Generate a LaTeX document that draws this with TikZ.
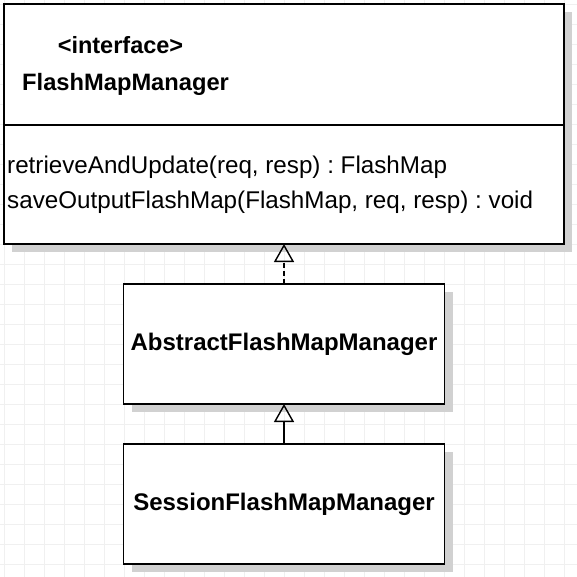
\documentclass[tikz,border=0pt]{standalone}
\usepackage{fontspec}
\setmainfont{Liberation Sans}
\usetikzlibrary{arrows.meta,shadows,positioning}
\frenchspacing
\tikzstyle{umlbox} = [rectangle, draw, fill=white, line width=1.6pt, outer sep=0pt,
    drop shadow={shadow xshift=8pt, shadow yshift=-8pt, fill=black!18, opacity=1}]
\tikzstyle{classbox} = [umlbox, minimum width=321pt, minimum height=120pt,
    font=\bfseries\fontsize{24}{29}\selectfont]
\tikzstyle{line} = [draw, line width=1.4pt,
    -{Triangle[open, length=18pt, width=20pt, line width=1.4pt]}]
\tikzstyle{realize} = [line, dash pattern=on 5pt off 3pt]
\begin{document}
\begin{tikzpicture}[x=1pt, y=1pt, node distance=40pt]
    \path [use as bounding box, fill=white] (0,0) rectangle (577,-576);
    \clip (0,0) rectangle (577,-576);
    % background grid
    \begin{scope}[xshift=4pt, yshift=-4pt]
        \draw [step=20pt, black!6, line width=1pt] (-20,20) grid (580,-580);
    \end{scope}
    \node [umlbox, minimum width=560pt, minimum height=240pt] (iface) at (284,-124) {};
    \coordinate (sep) at (0,-125);
    \draw [line width=1.6pt] (iface.west |- sep) -- (iface.east |- sep);
    \node [anchor=base, inner sep=0pt, font=\bfseries\fontsize{23.5}{28}\selectfont] (stereo) at (120.5,-53) {<interface>};
    \node [anchor=base west, inner sep=0pt, font=\bfseries\fontsize{23.7}{28}\selectfont] (ifname) at (22,-90) {FlashMapManager};
    \node [anchor=base west, inner sep=0pt, font=\fontsize{24.2}{29}\selectfont] (retrieve) at (7,-173) {retrieveAndUpdate(req, resp) : FlashMap};
    \node [anchor=base west, inner sep=0pt, font=\fontsize{24.2}{29}\selectfont] (save) at (7,-208) {saveOutputFlashMap(FlashMap, req, resp) : void};
    \node [classbox, below=of iface] (abstract) {AbstractFlashMapManager};
    \node [classbox, below=of abstract] (session) {SessionFlashMapManager};
    \path [realize] (abstract) -- (iface);
    \path [line] (session) -- (abstract);
\end{tikzpicture}
\end{document}
